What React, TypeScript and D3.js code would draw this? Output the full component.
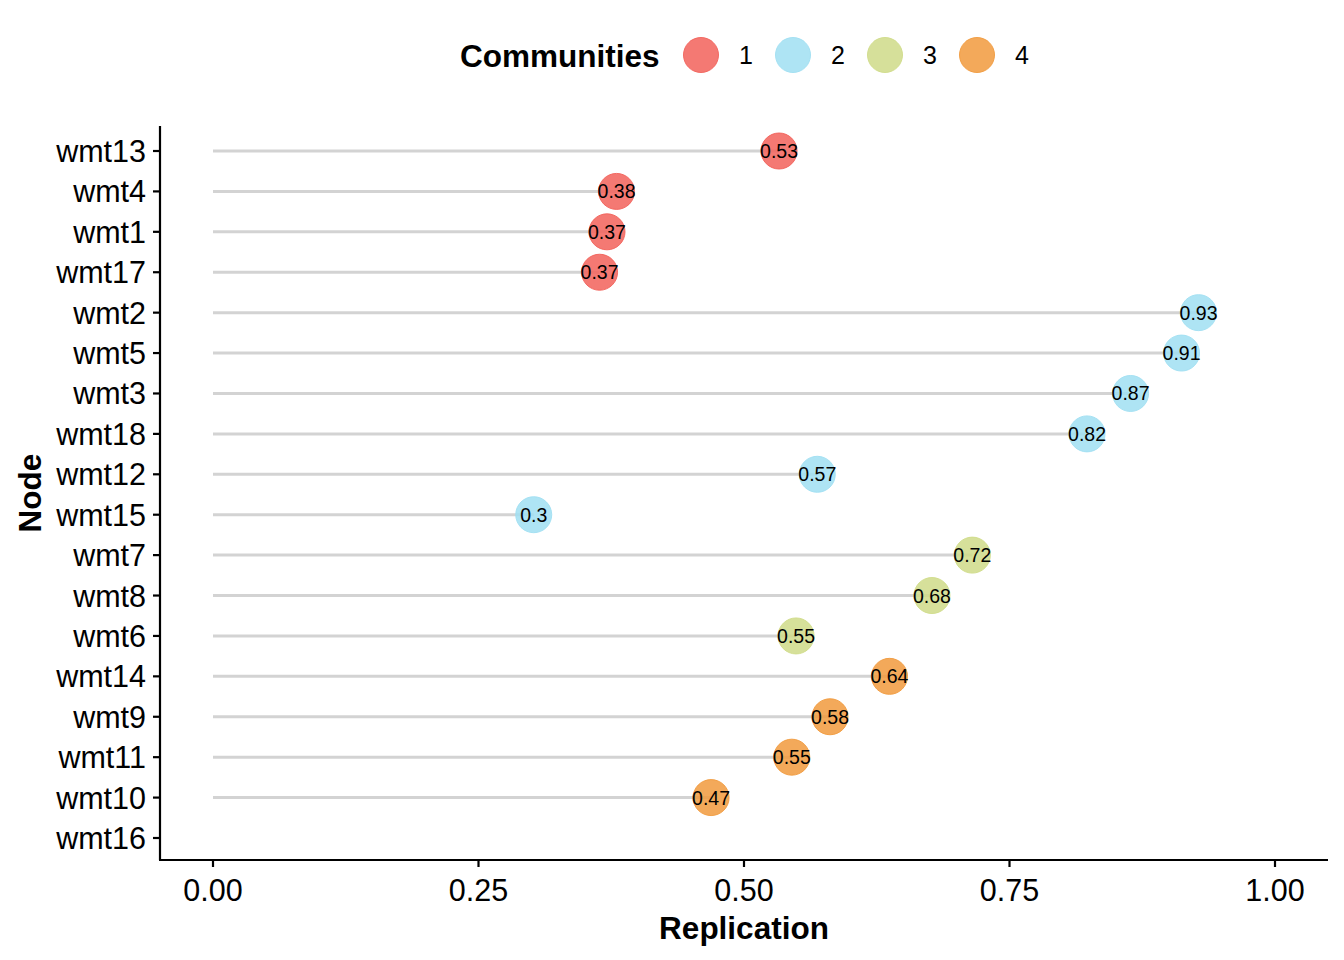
import * as d3 from "d3";
import { useRef, useEffect } from "react";

// Knoten von oben nach unten
const nodes = [
  "wmt13", "wmt4", "wmt1", "wmt17", "wmt2", "wmt5", "wmt3", "wmt18", "wmt12",
  "wmt15", "wmt7", "wmt8", "wmt6", "wmt14", "wmt9", "wmt11", "wmt10", "wmt16",
];
const replication: (number | null)[] = [
  0.533, 0.38, 0.371, 0.364, 0.928, 0.912, 0.864, 0.823, 0.569,
  0.302, 0.715, 0.677, 0.549, 0.637, 0.581, 0.545, 0.469, null,
];
const labels = [
  "0.53", "0.38", "0.37", "0.37", "0.93", "0.91", "0.87", "0.82", "0.57",
  "0.3", "0.72", "0.68", "0.55", "0.64", "0.58", "0.55", "0.47", "",
];
const community: (string | null)[] = [
  "1", "1", "1", "1", "2", "2", "2", "2", "2",
  "2", "3", "3", "3", "4", "4", "4", "4", null,
];
const communityIds = ["1", "2", "3", "4"];
const communityColors = ["#F2625A", "#A0DFF2", "#CFDB88", "#F19A3D"];
const xTicks = [0, 0.25, 0.5, 0.75, 1];

const FONT = "'Liberation Sans', Arial, sans-serif";

export default function App() {
  const svgRef = useRef<SVGSVGElement | null>(null);

  useEffect(() => {
    if (!svgRef.current) return;
    const width = 1344;
    const height = 960;

    const svg = d3.select(svgRef.current);
    svg.selectAll("*").remove();
    svg.attr("width", width).attr("height", height)
      .style("font-family", FONT)
      .style("display", "block")
      .style("position", "absolute")
      .style("left", "0px")
      .style("top", "0px");

    svg.append("rect").attr("width", width).attr("height", height).attr("fill", "#fff");

    const x = d3.scaleLinear().domain([0, 1]).range([213, 1275]);
    const y = d3.scalePoint<string>().domain(nodes).range([151, 838]);
    const color = d3.scaleOrdinal<string, string>().domain(communityIds).range(communityColors);

    const plotLeft = 160, plotRight = 1328, plotTop = 126, plotBottom = 860;

    // Segmente
    const g = svg.append("g");
    nodes.forEach((n, i) => {
      const v = replication[i];
      if (v == null) return;
      g.append("line")
        .attr("x1", x(0)).attr("x2", x(v))
        .attr("y1", y(n)!).attr("y2", y(n)!)
        .attr("stroke", "#D3D3D3").attr("stroke-width", 3);
    });

    // Punkte
    nodes.forEach((n, i) => {
      const v = replication[i];
      const c = community[i];
      if (v == null || c == null) return;
      g.append("circle")
        .attr("cx", x(v)).attr("cy", y(n)!).attr("r", 18)
        .attr("fill", color(c)).attr("fill-opacity", 0.85)
        .attr("stroke", color(c)).attr("stroke-opacity", 0.9).attr("stroke-width", 1);
    });

    // Beschriftungen
    nodes.forEach((n, i) => {
      const v = replication[i];
      if (v == null) return;
      g.append("text")
        .attr("x", x(v)).attr("y", y(n)!)
        .attr("dy", "0.36em")
        .attr("text-anchor", "middle")
        .attr("font-size", 19.5)
        .attr("fill", "#000")
        .text(labels[i]);
    });

    // Achsen
    svg.append("line")
      .attr("x1", plotLeft).attr("x2", plotLeft)
      .attr("y1", plotTop).attr("y2", plotBottom)
      .attr("stroke", "#000").attr("stroke-width", 2.2);
    svg.append("line")
      .attr("x1", plotLeft - 1).attr("x2", plotRight)
      .attr("y1", plotBottom).attr("y2", plotBottom)
      .attr("stroke", "#000").attr("stroke-width", 2.2);

    nodes.forEach(n => {
      svg.append("line")
        .attr("x1", plotLeft - 7).attr("x2", plotLeft)
        .attr("y1", y(n)!).attr("y2", y(n)!)
        .attr("stroke", "#000").attr("stroke-width", 2.2);
      svg.append("text")
        .attr("x", plotLeft - 14).attr("y", y(n)!)
        .attr("dy", "0.36em")
        .attr("text-anchor", "end")
        .attr("font-size", 30.5)
        .attr("fill", "#000")
        .text(n);
    });

    xTicks.forEach(t => {
      svg.append("line")
        .attr("x1", x(t)).attr("x2", x(t))
        .attr("y1", plotBottom).attr("y2", plotBottom + 7)
        .attr("stroke", "#000").attr("stroke-width", 2.2);
      svg.append("text")
        .attr("x", x(t)).attr("y", plotBottom + 41)
        .attr("text-anchor", "middle")
        .attr("font-size", 30.5)
        .attr("fill", "#000")
        .text(d3.format(".2f")(t));
    });

    // Achsentitel
    svg.append("text")
      .attr("x", (plotLeft + plotRight) / 2).attr("y", 939)
      .attr("text-anchor", "middle")
      .attr("font-size", 31.5).attr("font-weight", "bold")
      .text("Replication");
    svg.append("text")
      .attr("transform", `translate(41,${(plotTop + plotBottom) / 2}) rotate(-90)`)
      .attr("text-anchor", "middle")
      .attr("font-size", 31.5).attr("font-weight", "bold")
      .text("Node");

    // Legende
    const leg = svg.append("g");
    leg.append("text")
      .attr("x", 460).attr("y", 67)
      .attr("font-size", 31.5).attr("font-weight", "bold")
      .text("Communities");
    communityIds.forEach((c, i) => {
      const cx = 701 + i * 92;
      leg.append("circle")
        .attr("cx", cx).attr("cy", 55).attr("r", 17.5)
        .attr("fill", color(c)).attr("fill-opacity", 0.85)
        .attr("stroke", color(c)).attr("stroke-opacity", 0.9);
      leg.append("text")
        .attr("x", cx + 45).attr("y", 55)
        .attr("dy", "0.36em")
        .attr("text-anchor", "middle")
        .attr("font-size", 25)
        .text(c);
    });
  }, []);

  return <svg ref={svgRef}></svg>;
}
